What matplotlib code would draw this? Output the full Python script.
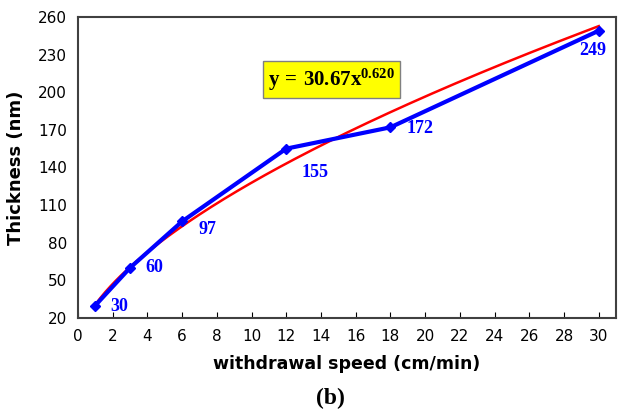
import numpy as np
import matplotlib.pyplot as plt

plt.rcParams['mathtext.fontset'] = 'custom'
plt.rcParams['mathtext.rm'] = 'Liberation Serif:bold'
plt.rcParams['mathtext.bf'] = 'Liberation Serif:bold'
plt.rcParams['mathtext.it'] = 'Liberation Serif:bold'

# withdrawal speed vs film thickness
speed = [1, 3, 6, 12, 18, 30]
thickness = [30, 60, 97, 155, 172, 249]
label_offsets = [(11, -1), (11, 0), (11.5, -6), (11, -17), (11.5, -1), (-14, -14)]

fit_a = 30.67
fit_b = 0.620

fig = plt.figure(figsize=(6.23, 4.12), dpi=100)
ax = fig.add_axes([0.125, 0.228, 0.864, 0.731])

xs = np.linspace(1, 30, 200)
ax.plot(xs, fit_a * xs ** fit_b, color='#ff0000', linewidth=1.8, zorder=2)
ax.plot(speed, thickness, color='#0000ff', linewidth=3, marker='D', markersize=5, zorder=3)

for x, y, off in zip(speed, thickness, label_offsets):
    ax.annotate(str(y), (x, y), xytext=off, textcoords='offset points',
                color='#0000ff', fontsize=13, fontweight='bold', family='Liberation Serif',
                ha='left', va='center')

eq = r'$\mathrm{y\,=\,%.2fx^{%.3f}}$' % (fit_a, fit_b)
ax.text(14.6, 210, eq, fontsize=15, ha='center', va='center',
        bbox=dict(boxstyle='square,pad=0.25', facecolor='#ffff00', edgecolor='#808080', linewidth=1))

ax.set_xlim(0, 31)
ax.set_ylim(20, 260)
ax.set_xticks(range(0, 31, 2))
ax.set_yticks(range(20, 261, 30))
ax.tick_params(axis='x', direction='in', length=4, labelsize=11, pad=8)
ax.tick_params(axis='y', length=0, labelsize=11, pad=8)
for s in ax.spines.values():
    s.set_linewidth(1.5)
    s.set_color('#404040')

ax.set_xlabel('withdrawal speed (cm/min)', fontsize=12.5, fontweight='bold', labelpad=8)
ax.set_ylabel('Thickness (nm)', fontsize=13, fontweight='bold', labelpad=9)

fig.text(0.53, 0.033, '(b)', fontsize=17, fontweight='bold', family='Liberation Serif',
         ha='center', va='center')

fig.savefig('out.png', dpi=100)
